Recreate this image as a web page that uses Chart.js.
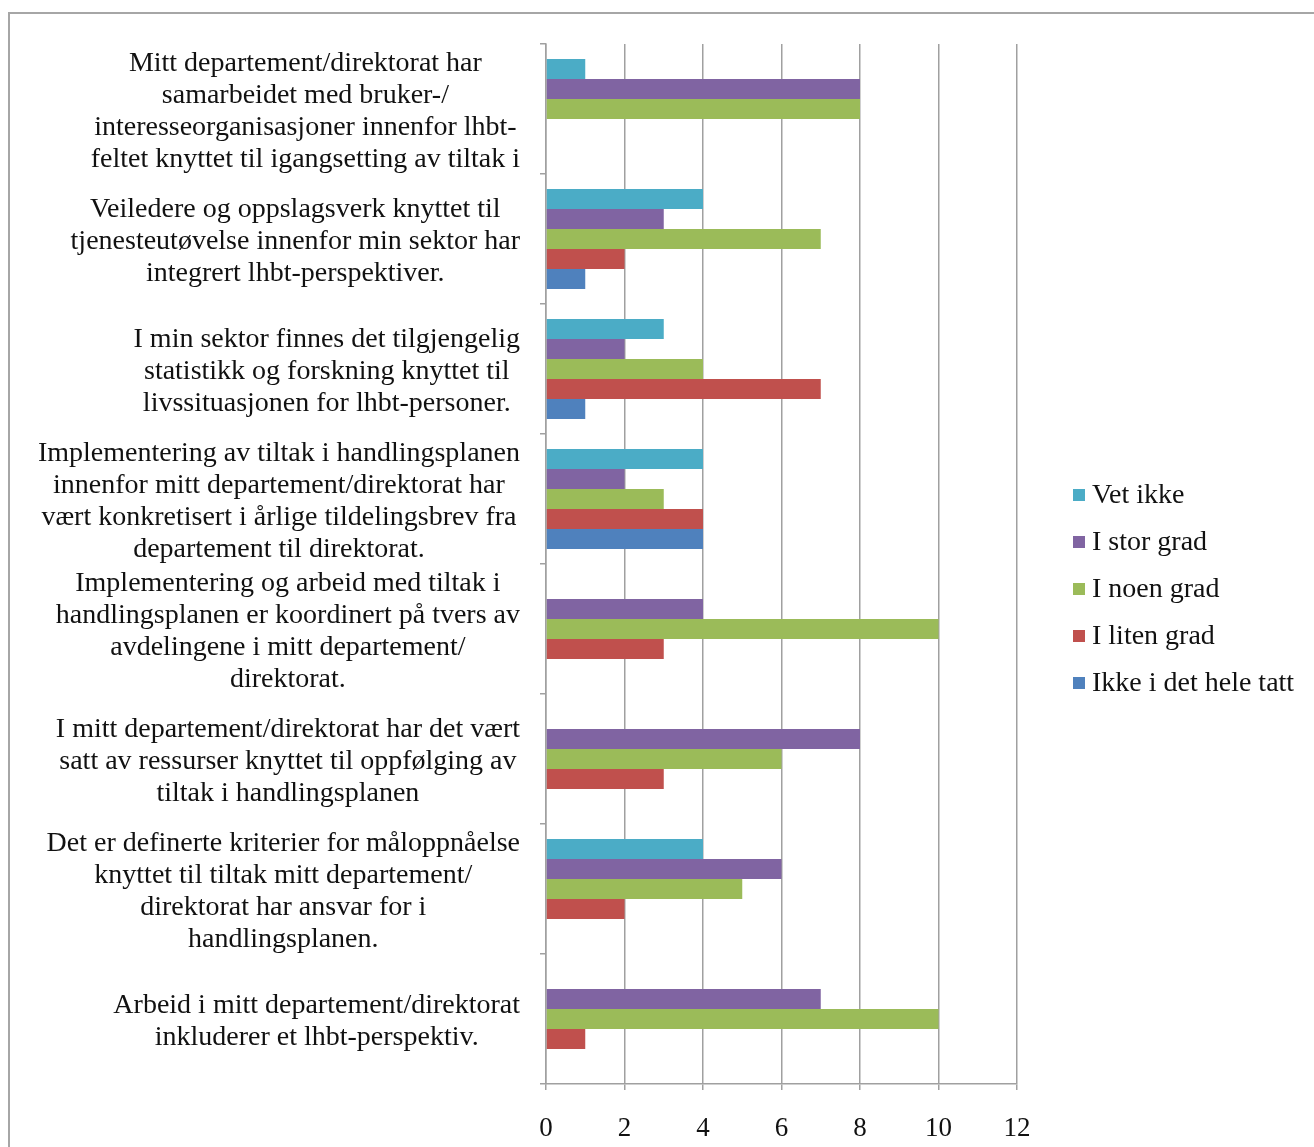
<!DOCTYPE html>
<html>
<head>
<meta charset="utf-8">
<script src="https://cdn.jsdelivr.net/npm/chart.js@4.4.0/dist/chart.umd.min.js"></script>
<style>
  body { margin: 0; background: #fff; }
  #wrap { position: relative; width: 1314px; height: 1147px; overflow: hidden; }
  #frame { position: absolute; left: 8px; top: 12px; width: 1400px; height: 1300px;
           border: 2px solid #a6a6a6; pointer-events: none; }
  #legend { position: absolute; left: 1073px; top: 470px; font: 28px "Liberation Serif", serif; color: #111; }
  #legend div { height: 47px; line-height: 47px; white-space: nowrap; }
  #legend span { display: inline-block; width: 12px; height: 12px; margin-right: 7px; vertical-align: 2px; }
</style>
</head>
<body>
<div id="wrap">
  <canvas id="chart" width="1314" height="1147"></canvas>
  <div id="frame"></div>
  <div id="legend"></div>
</div>
<script>
const categories = [
  ['Mitt departement/direktorat har', 'samarbeidet med bruker-/', 'interesseorganisasjoner innenfor lhbt-', 'feltet knyttet til igangsetting av tiltak i'],
  ['Veiledere og oppslagsverk knyttet til', 'tjenesteutøvelse innenfor min sektor har', 'integrert lhbt-perspektiver.'],
  ['I min sektor finnes det tilgjengelig', 'statistikk og forskning knyttet til', 'livssituasjonen for lhbt-personer.'],
  ['Implementering av tiltak i handlingsplanen', 'innenfor mitt departement/direktorat har', 'vært konkretisert i årlige tildelingsbrev fra', 'departement til direktorat.'],
  ['Implementering og arbeid med tiltak i', 'handlingsplanen er koordinert på tvers av', 'avdelingene i mitt departement/', 'direktorat.'],
  ['I mitt departement/direktorat har det vært', 'satt av ressurser knyttet til oppfølging av', 'tiltak i handlingsplanen'],
  ['Det er definerte kriterier for måloppnåelse', 'knyttet til tiltak mitt departement/', 'direktorat har ansvar for i', 'handlingsplanen.'],
  ['Arbeid i mitt departement/direktorat', 'inkluderer et lhbt-perspektiv.'],
];

const seriesNames = ['Vet ikke', 'I stor grad', 'I noen grad', 'I liten grad', 'Ikke i det hele tatt'];
const vetIkke   = [1, 4, 3, 4, 0, 0, 4, 0];
const storGrad  = [8, 3, 2, 2, 4, 8, 6, 7];
const noenGrad  = [8, 7, 4, 3, 10, 6, 5, 10];
const litenGrad = [0, 2, 7, 4, 3, 3, 2, 1];
const ikkeHele  = [0, 1, 1, 4, 0, 0, 0, 0];

const colors = ['#4BACC6', '#8064A2', '#9BBB59', '#C0504D', '#4F81BD'];
const FONT = '"Liberation Serif", serif';
const GRID = '#a0a0a0';

// draws the multi-line category labels, each block centred on its own widest line
const catLabels = {
  id: 'catLabels',
  afterDraw(chart) {
    const { ctx } = chart;
    const y = chart.scales.y;
    const right = 520, lh = 32;
    ctx.save();
    ctx.font = '28px ' + FONT;
    ctx.fillStyle = '#111';
    ctx.textAlign = 'center';
    ctx.textBaseline = 'middle';
    chart.data.labels.forEach((lines, i) => {
      const w = Math.max(...lines.map(l => ctx.measureText(l).width));
      const cx = right - w / 2;
      const cy = y.getPixelForValue(i) + 3;
      lines.forEach((l, j) => ctx.fillText(l, cx, cy + (j - (lines.length - 1) / 2) * lh));
    });
    ctx.restore();
  },
};

const chart = new Chart(document.getElementById('chart'), {
  type: 'bar',
  data: {
    labels: categories,
    datasets: [vetIkke, storGrad, noenGrad, litenGrad, ikkeHele].map((d, i) => ({
      label: seriesNames[i],
      data: d,
      backgroundColor: colors[i],
      borderWidth: 0,
      barPercentage: 1,
      categoryPercentage: 0.77,
    })),
  },
  options: {
    indexAxis: 'y',
    responsive: false,
    animation: false,
    layout: { padding: { top: 44, right: 297, bottom: 0, left: 0 } },
    plugins: { legend: { display: false }, tooltip: { enabled: false } },
    scales: {
      x: {
        min: 0, max: 12,
        ticks: { stepSize: 2, color: '#111', font: { family: FONT, size: 27 }, padding: 23 },
        grid: { color: GRID, lineWidth: 1.5, tickLength: 6 },
        border: { color: GRID, width: 1.5 },
        afterFit(s) { s.height = 63; },
      },
      y: {
        ticks: { display: false },
        grid: { drawOnChartArea: false, color: GRID, lineWidth: 1.5, tickLength: 6 },
        border: { color: GRID, width: 1.5 },
        afterFit(s) { s.width = 546; },
      },
    },
  },
  plugins: [catLabels],
});

// legend as plain html, built from the datasets
document.getElementById('legend').innerHTML = chart.data.datasets
  .map(ds => `<div><span style="background:${ds.backgroundColor}"></span>${ds.label}</div>`)
  .join('');
</script>
</body>
</html>
